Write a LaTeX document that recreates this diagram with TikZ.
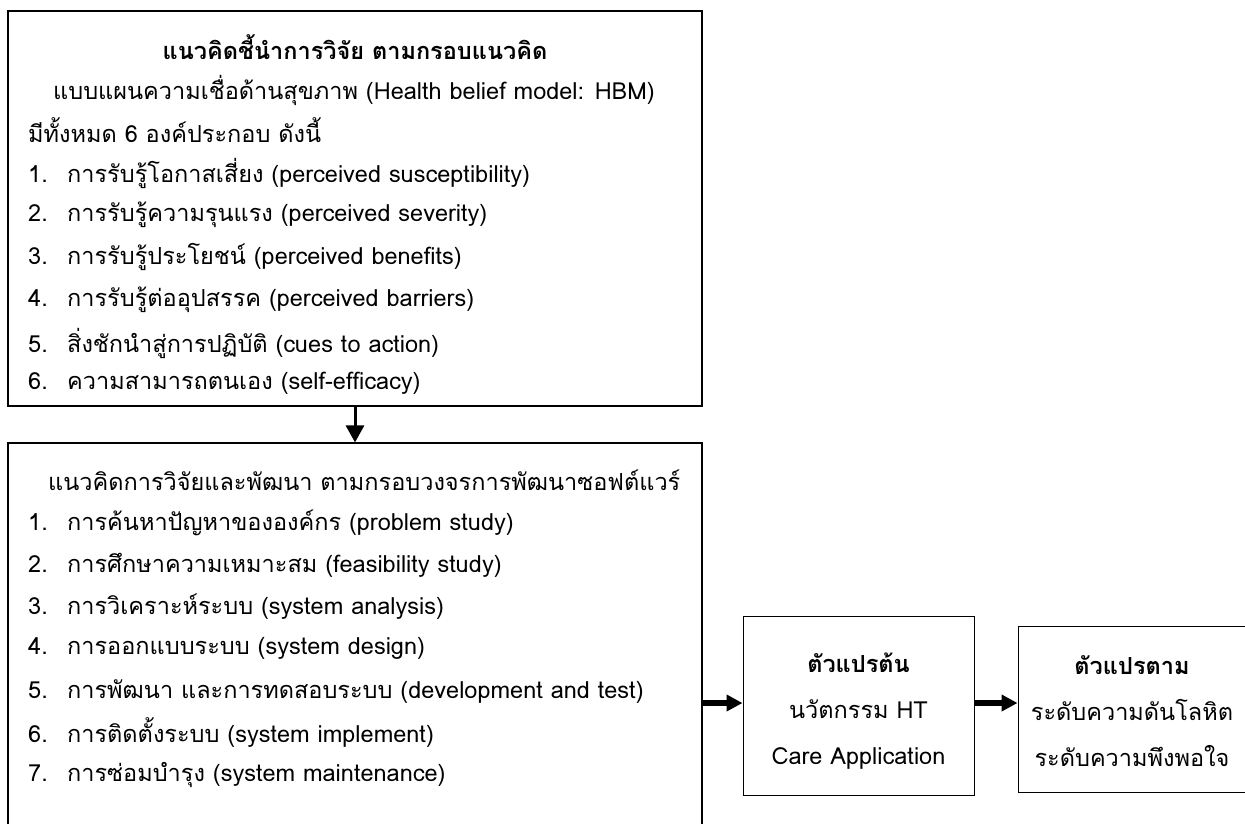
\documentclass[tikz,border=0pt]{standalone}
\usepackage{fontspec}
\setmainfont[Script=Thai]{Loma}
\usetikzlibrary{arrows.meta}
\usetikzlibrary{positioning}

\tikzset{
    frame/.style={draw, line width=1.2pt, inner sep=0pt},
    line/.style={anchor=west, inner sep=0pt},
    downarrow/.style={line width=3pt, -{Triangle[length=17pt, width=18pt]}},
    bigarrow/.style={line width=6pt, -{Triangle[length=16pt, width=16pt]}}
}
\newcommand{\num}[1]{\makebox[39pt][l]{#1}}

\begin{document}
\begin{tikzpicture}[x=1pt, y=-1pt, font=\fontsize{23.5}{46}\selectfont]
    \useasboundingbox (0,0) rectangle (1245,823);

    % upper box: HBM
    \node[frame, minimum width=694pt, minimum height=395pt] (hbm) at (355,208.5) {};
    \node[inner sep=0pt] (hbmtitle) at (355,47) {\textbf{แนวคิดชี้นำการวิจัย ตามกรอบแนวคิด}};
    \node[line] (hbmintro) at (53,90) {แบบแผนความเชื่อด้านสุขภาพ (Health belief model: HBM)};
    \node[line] (hbmcount) at (28,130) {มีทั้งหมด 6 องค์ประกอบ ดังนี้};
    \node[line] (hbm1) at (28,173) {\num{1.}การรับรู้โอกาสเสี่ยง (perceived susceptibility)};
    \node[line] (hbm2) at (28,215) {\num{2.}การรับรู้ความรุนแรง (perceived severity)};
    \node[line] (hbm3) at (28,257) {\num{3.}การรับรู้ประโยชน์ (perceived benefits)};
    \node[line] (hbm4) at (28,300) {\num{4.}การรับรู้ต่ออุปสรรค (perceived barriers)};
    \node[line] (hbm5) at (28,343) {\num{5.}สิ่งชักนำสู่การปฏิบัติ (cues to action)};
    \node[line] (hbm6) at (28,383) {\num{6.}ความสามารถตนเอง (self-efficacy)};

    % lower box: software development cycle
    \node[frame, minimum width=694pt, minimum height=400pt] (sdlc) at (355,643) {};
    \node[line] (sdlctitle) at (48,480) {แนวคิดการวิจัยและพัฒนา ตามกรอบวงจรการพัฒนาซอฟต์แวร์};
    \node[line] (sdlc1) at (28,523) {\num{1.}การค้นหาปัญหาขององค์กร (problem study)};
    \node[line] (sdlc2) at (28,565) {\num{2.}การศึกษาความเหมาะสม (feasibility study)};
    \node[line] (sdlc3) at (28,607) {\num{3.}การวิเคราะห์ระบบ (system analysis)};
    \node[line] (sdlc4) at (28,648) {\num{4.}การออกแบบระบบ (system design)};
    \node[line] (sdlc5) at (28,692) {\num{5.}การพัฒนา และการทดสอบระบบ (development and test)};
    \node[line] (sdlc6) at (28,733) {\num{6.}การติดตั้งระบบ (system implement)};
    \node[line] (sdlc7) at (28,775) {\num{7.}การซ่อมบำรุง (system maintenance)};

    % variables
    \node[frame, line width=1pt, minimum width=231pt, minimum height=179pt] (iv) at (858.5,705.5) {};
    \node[align=center, inner sep=0pt] (ivtext) at (858.5,711) {\textbf{ตัวแปรต้น}\\นวัตกรรม HT\\Care Application};
    \node[frame, line width=1pt, minimum width=236pt, minimum height=166pt] (dv) at (1136,709) {};
    \node[align=center, inner sep=0pt] (dvtext) at (1132,711) {\textbf{ตัวแปรตาม}\\ระดับความดันโลหิต\\ระดับความพึงพอใจ};

    \draw[downarrow] (hbm.south) -- (sdlc.north);
    \draw[bigarrow] (sdlc.east |- iv.west) ++(0,-2.5) -- ([yshift=2.5pt]iv.west);
    \draw[bigarrow] ([yshift=2.5pt]iv.east) -- ([yshift=2.5pt]iv.east -| dv.west);
\end{tikzpicture}
\end{document}
